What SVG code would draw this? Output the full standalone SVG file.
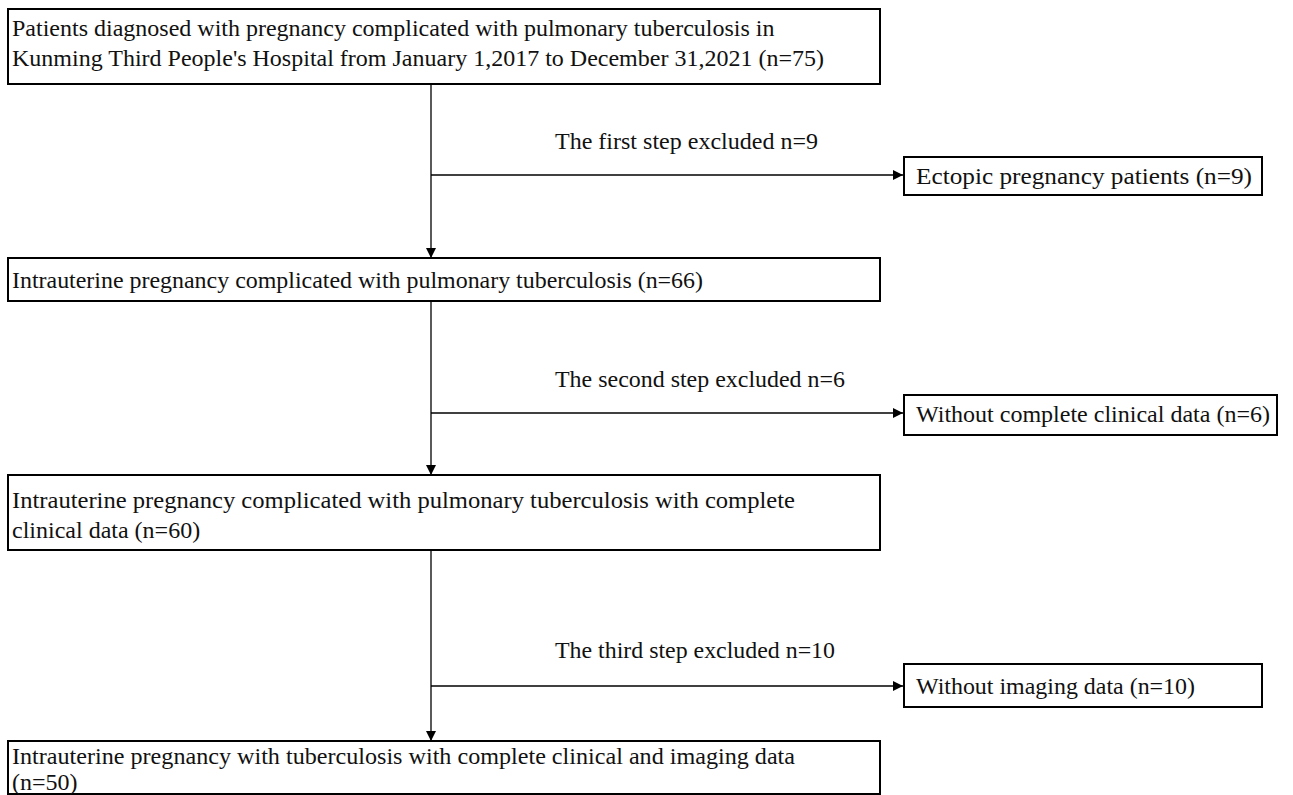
<svg xmlns="http://www.w3.org/2000/svg" width="1293" height="795" viewBox="0 0 1293 795">
<defs>
<style>
.box{fill:#ffffff;stroke:#000000;stroke-width:2}
.t{font-family:"Liberation Serif","Times New Roman",serif;font-size:24px;fill:#111111}
.ln{stroke:#000000;stroke-width:1.3;fill:none}
</style>
<marker id="ah" viewBox="0 0 10 10" refX="10" refY="5" markerWidth="10" markerHeight="10" markerUnits="userSpaceOnUse" orient="auto">
<path d="M0,0 L10,5 L0,10 z" fill="#000000"/>
</marker>
</defs>
<rect width="1293" height="795" fill="#ffffff"/>
<g id="connectors">
<line class="ln" x1="431" y1="84" x2="431" y2="258" marker-end="url(#ah)"/>
<line class="ln" x1="431" y1="175" x2="903" y2="175" marker-end="url(#ah)"/>
<line class="ln" x1="431" y1="301" x2="431" y2="475" marker-end="url(#ah)"/>
<line class="ln" x1="431" y1="413" x2="903" y2="413" marker-end="url(#ah)"/>
<line class="ln" x1="431" y1="550" x2="431" y2="741" marker-end="url(#ah)"/>
<line class="ln" x1="431" y1="686" x2="903" y2="686" marker-end="url(#ah)"/>
<text class="t" x="555" y="149" textLength="263" lengthAdjust="spacingAndGlyphs">The first step excluded n=9</text>
<text class="t" x="555" y="387" textLength="290" lengthAdjust="spacingAndGlyphs">The second step excluded n=6</text>
<text class="t" x="555" y="658" textLength="280" lengthAdjust="spacingAndGlyphs">The third step excluded n=10</text>
</g>
<g id="n1">
<rect class="box" x="8" y="9" width="872" height="75"/>
<text class="t" x="12" y="36">Patients diagnosed with pregnancy complicated with pulmonary tuberculosis in</text>
<text class="t" x="12" y="66">Kunming Third People's Hospital from January 1,2017 to December 31,2021 (n=75)</text>
</g>
<g id="n2">
<rect class="box" x="904" y="157" width="358" height="38"/>
<text class="t" x="916" y="184" textLength="336" lengthAdjust="spacingAndGlyphs">Ectopic pregnancy patients (n=9)</text>
</g>
<g id="n3">
<rect class="box" x="8" y="258" width="872" height="43"/>
<text class="t" x="12" y="288" textLength="691" lengthAdjust="spacingAndGlyphs">Intrauterine pregnancy complicated with pulmonary tuberculosis (n=66)</text>
</g>
<g id="n4">
<rect class="box" x="904" y="395" width="373" height="40"/>
<text class="t" x="916" y="422" textLength="354" lengthAdjust="spacingAndGlyphs">Without complete clinical data (n=6)</text>
</g>
<g id="n5">
<rect class="box" x="8" y="475" width="872" height="75"/>
<text class="t" x="12" y="508" textLength="783" lengthAdjust="spacingAndGlyphs">Intrauterine pregnancy complicated with pulmonary tuberculosis with complete</text>
<text class="t" x="12" y="538">clinical data (n=60)</text>
</g>
<g id="n6">
<rect class="box" x="904" y="664" width="358" height="43"/>
<text class="t" x="916" y="694" textLength="279" lengthAdjust="spacingAndGlyphs">Without imaging data (n=10)</text>
</g>
<g id="n7">
<rect class="box" x="8" y="741" width="872" height="53"/>
<text class="t" x="12" y="764" textLength="783" lengthAdjust="spacingAndGlyphs">Intrauterine pregnancy with tuberculosis with complete clinical and imaging data</text>
<text class="t" x="12" y="790">(n=50)</text>
</g>
</svg>
